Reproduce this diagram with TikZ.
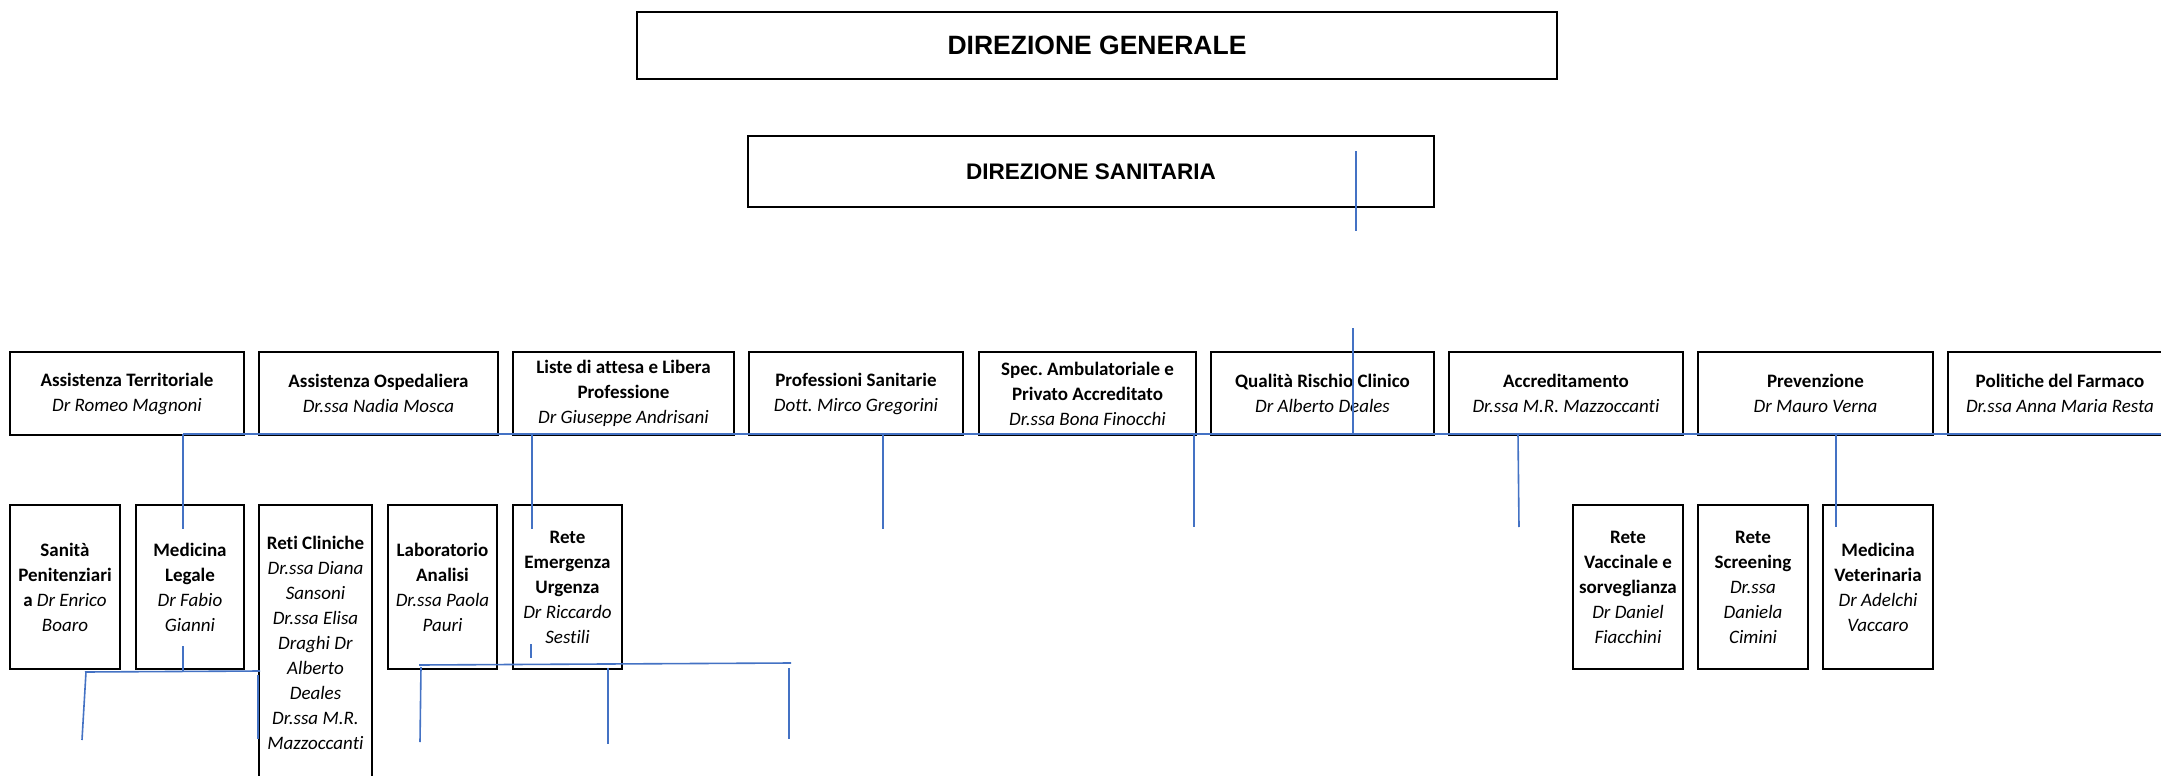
\documentclass[tikz,border=0pt]{standalone}
\usepackage{fontspec}
\setmainfont{Carlito}[Ligatures=NoCommon]
\newfontfamily\arialfont{Liberation Sans}
\definecolor{conblue}{RGB}{68,114,196}
\frenchspacing
\begin{document}
\begin{tikzpicture}[x=1pt,y=-1pt,
  box/.style={draw=black,line width=2pt,inner sep=0pt,outer sep=0pt,anchor=north west,align=center,font=\fontsize{19}{25}\selectfont},
  headbox/.style={draw=black,line width=2pt,inner sep=0pt,outer sep=0pt,anchor=north west},
  conn/.style={draw=conblue,line width=1.6pt}]
\clip (0,0) rectangle (2161,776);
\fill[white] (0,0) rectangle (2161,776);

% top boxes
\node[headbox,minimum width=920pt,minimum height=67pt,font=\arialfont\bfseries\fontsize{26.5}{30}\selectfont] (dg) at (637,12) {DIREZIONE GENERALE};
\node[headbox,minimum width=686pt,minimum height=71pt,font=\arialfont\bfseries\fontsize{22.5}{26}\selectfont] (ds) at (748,136) {DIREZIONE SANITARIA};

% row 1
\node[box,minimum width=234pt,minimum height=83pt] (b1) at (10,352) {\textbf{Assistenza Territoriale}\\\textit{Dr Romeo Magnoni}};
\node[box,minimum width=239pt,minimum height=83pt] (b2) at (259,352) {\textbf{Assistenza Ospedaliera}\\\textit{Dr.ssa Nadia Mosca}};
\node[box,minimum width=221pt,minimum height=83pt] (b3) at (513,352) {\textbf{Liste di attesa e Libera}\\\textbf{Professione}\\\textit{Dr Giuseppe Andrisani}};
\node[box,minimum width=214pt,minimum height=83pt] (b4) at (749,352) {\textbf{Professioni Sanitarie}\\\textit{Dott. Mirco Gregorini}};
\node[box,minimum width=217pt,minimum height=83pt] (b5) at (979,352) {\textbf{Spec. Ambulatoriale e}\\\textbf{Privato Accreditato}\\\textit{Dr.ssa Bona Finocchi}};
\node[box,minimum width=223pt,minimum height=83pt] (b6) at (1211,352) {\textbf{Qualità Rischio Clinico}\\\textit{Dr Alberto Deales}};
\node[box,minimum width=234pt,minimum height=83pt] (b7) at (1449,352) {\textbf{Accreditamento}\\\textit{Dr.ssa M.R. Mazzoccanti}};
\node[box,minimum width=235pt,minimum height=83pt] (b8) at (1698,352) {\textbf{Prevenzione}\\\textit{Dr Mauro Verna}};
\node[box,minimum width=224pt,minimum height=83pt] (b9) at (1948,352) {\textbf{Politiche del Farmaco}\\\textit{Dr.ssa Anna Maria Resta}};

% row 2
\node[box,minimum width=110pt,minimum height=164pt] (c1) at (10,505) {\textbf{Sanità}\\\textbf{Penitenziari}\\\textbf{a} \textit{Dr Enrico}\\\textit{Boaro}};
\node[box,minimum width=108pt,minimum height=164pt] (c2) at (136,505) {\textbf{Medicina}\\\textbf{Legale}\\\textit{Dr Fabio}\\\textit{Gianni}};
\node[box,minimum width=113pt,minimum height=275pt] (c3) at (259,505) {\textbf{Reti Cliniche}\\\textit{Dr.ssa Diana}\\\textit{Sansoni}\\\textit{Dr.ssa Elisa}\\\textit{Draghi Dr}\\\textit{Alberto}\\\textit{Deales}\\\textit{Dr.ssa M.R.}\\\textit{Mazzoccanti}};
\node[box,minimum width=109pt,minimum height=164pt] (c4) at (388,505) {\textbf{Laboratorio}\\\textbf{Analisi}\\\textit{Dr.ssa Paola}\\\textit{Pauri}};
\node[box,minimum width=109pt,minimum height=164pt] (c5) at (513,505) {\textbf{Rete}\\\textbf{Emergenza}\\\textbf{Urgenza}\\\textit{Dr Riccardo}\\\textit{Sestili}};
\node[box,minimum width=110pt,minimum height=164pt] (c6) at (1573,505) {\textbf{Rete}\\\textbf{Vaccinale e}\\\textbf{sorveglianza}\\\textit{Dr Daniel}\\\textit{Fiacchini}};
\node[box,minimum width=110pt,minimum height=164pt] (c7) at (1698,505) {\textbf{Rete}\\\textbf{Screening}\\\textit{Dr.ssa}\\\textit{Daniela}\\\textit{Cimini}};
\node[box,minimum width=110pt,minimum height=164pt] (c8) at (1823,505) {\textbf{Medicina}\\\textbf{Veterinaria}\\\textit{Dr Adelchi}\\\textit{Vaccaro}};

% connector points
\coordinate (ds1) at (1356,151); \coordinate (ds2) at (1356,231);
\coordinate (q1) at (1353,328);  \coordinate (q2) at (1353,434);
\coordinate (busL) at (183,434); \coordinate (busR) at (2161,434);
\coordinate (v1t) at (183,434);  \coordinate (v1b) at (183,529);
\coordinate (v2t) at (532,434);  \coordinate (v2b) at (532,529);
\coordinate (v3t) at (883,434);  \coordinate (v3b) at (883,529);
\coordinate (v4t) at (1194,434); \coordinate (v4b) at (1194,527);
\coordinate (v5t) at (1518,434); \coordinate (v5b) at (1519,527);
\coordinate (v6t) at (1836,434); \coordinate (v6b) at (1836,527);
\coordinate (tk1) at (531,644);  \coordinate (tk2) at (531,658);
\coordinate (m1) at (183,646);   \coordinate (m2) at (183,672);
\coordinate (hA) at (85,672);    \coordinate (hB) at (260,671);
\coordinate (a1) at (86,672);    \coordinate (a2) at (82,740);
\coordinate (r1) at (258,675);   \coordinate (r2) at (258,739);
\coordinate (hC) at (419,665);   \coordinate (hD) at (791,663);
\coordinate (l1) at (421,667);   \coordinate (l2) at (420,742);
\coordinate (e1) at (608,668);   \coordinate (e2) at (608,744);
\coordinate (f1) at (789,668);   \coordinate (f2) at (789,739);

\draw[conn] (ds1) -- (ds2);
\draw[conn] (q1) -- (q2);
\draw[conn] (busL) -- (busR);
\draw[conn] (v1t) -- (v1b);
\draw[conn] (v2t) -- (v2b);
\draw[conn] (v3t) -- (v3b);
\draw[conn] (v4t) -- (v4b);
\draw[conn] (v5t) -- (v5b);
\draw[conn] (v6t) -- (v6b);
\draw[conn] (tk1) -- (tk2);
\draw[conn] (m1) -- (m2);
\draw[conn] (hA) -- (hB);
\draw[conn] (a1) -- (a2);
\draw[conn] (r1) -- (r2);
\draw[conn] (hC) -- (hD);
\draw[conn] (l1) -- (l2);
\draw[conn] (e1) -- (e2);
\draw[conn] (f1) -- (f2);
\end{tikzpicture}
\end{document}
